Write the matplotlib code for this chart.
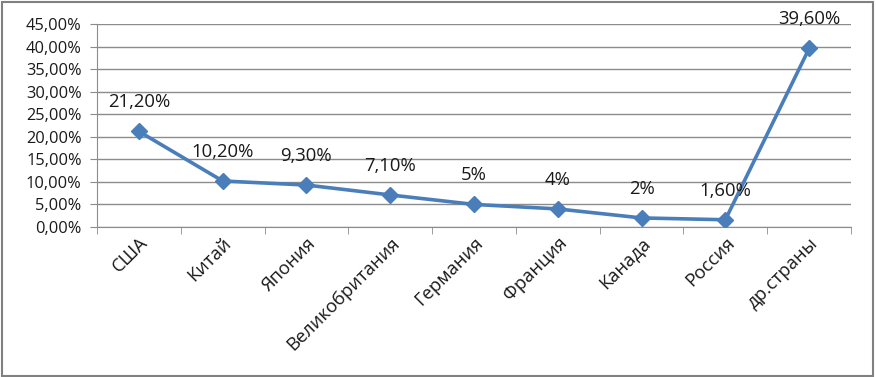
import matplotlib
matplotlib.use("Agg")
import matplotlib.pyplot as plt
from matplotlib.patches import Rectangle
from matplotlib.ticker import FixedLocator

categories = ["США", "Китай", "Япония", "Великобритания", "Германия",
              "Франция", "Канада", "Россия", "др.страны"]
values = [21.2, 10.2, 9.3, 7.1, 5.0, 4.0, 2.0, 1.6, 39.6]
labels = ["21,20%", "10,20%", "9,30%", "7,10%", "5%", "4%", "2%", "1,60%", "39,60%"]
yticks = [0, 5, 10, 15, 20, 25, 30, 35, 40, 45]
ytick_labels = ["0,00%", "5,00%", "10,00%", "15,00%", "20,00%", "25,00%",
                "30,00%", "35,00%", "40,00%", "45,00%"]

plt.rcParams['font.family'] = ['Open Sans', 'DejaVu Sans']

fig = plt.figure(figsize=(8.76, 3.77), dpi=100)
ax = fig.add_axes([0.1107, 0.398, 0.8608, 0.538])

x = list(range(len(categories)))
ax.plot(x, values, color="#4A7EBB", lw=2.6, marker="D", ms=8.5,
        markerfacecolor="#4A7EBB", markeredgecolor="#4A7EBB", zorder=3)

for xi, v, lab in zip(x, values, labels):
    ax.annotate(lab, (xi, v), xytext=(0, 21), textcoords="offset points",
                ha="center", va="center", fontsize=13.3, color="#1a1a1a")

ax.set_xlim(-0.5, len(categories) - 0.5)
ax.set_ylim(0, 45)
ax.set_yticks(yticks)
ax.set_yticklabels(ytick_labels, fontsize=11.8, color="#1a1a1a")
ax.grid(axis="y", color="#8c8c8c", lw=1)
ax.set_axisbelow(True)

ax.set_xticks(x)
ax.set_xticklabels(categories, rotation=45, ha="right", rotation_mode="anchor",
                   fontsize=13.2, color="#1a1a1a")
ax.tick_params(axis="x", length=0, pad=5)
ax.xaxis.set_minor_locator(FixedLocator([i - 0.5 for i in range(len(categories) + 1)]))
ax.tick_params(axis="x", which="minor", length=5, color="#8c8c8c", direction="out")
ax.tick_params(axis="y", length=5, color="#8c8c8c", direction="out", pad=6)

for s in ["top", "right"]:
    ax.spines[s].set_visible(False)
ax.spines["left"].set_color("#8c8c8c")
ax.spines["bottom"].set_color("#8c8c8c")

fig.patches.append(Rectangle((0.002, 0.003), 0.995, 0.993, transform=fig.transFigure,
                             fill=False, edgecolor="#808080", lw=1.5))

fig.savefig("out.png", dpi=100)
